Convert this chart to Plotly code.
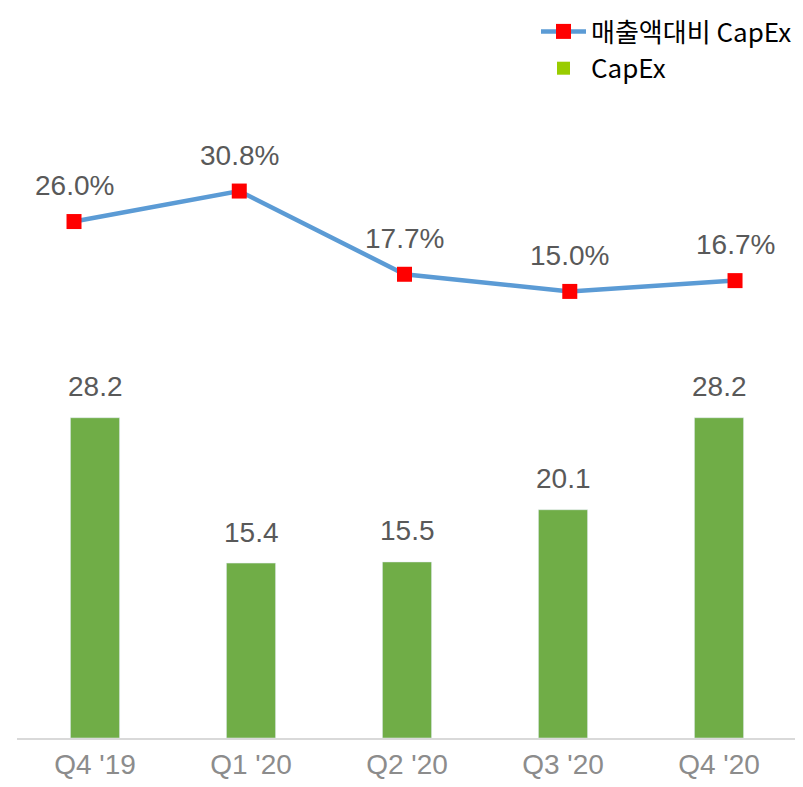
import plotly.graph_objects as go

categories = ["Q4 '19", "Q1 '20", "Q2 '20", "Q3 '20", "Q4 '20"]
capex = [28.2, 15.4, 15.5, 20.1, 28.2]
capex_ratio = [26.0, 30.8, 17.7, 15.0, 16.7]

KFONT = "Noto Sans CJK KR"
NFONT = "Liberation Sans"

fig = go.Figure()
fig.add_trace(go.Bar(
    x=categories, y=capex, name="CapEx", marker_color="#70AD47",
    width=0.315, showlegend=False, xaxis="x", yaxis="y"))
fig.add_trace(go.Scatter(
    x=categories, y=capex_ratio, name="매출액대비 CapEx", mode="lines+markers",
    line=dict(color="#5B9BD5", width=4.5),
    marker=dict(symbol="square", size=15, color="#FF0000"),
    xaxis="x2", yaxis="y2"))
# legend entry for CapEx (legend colour differs in reference)
fig.add_trace(go.Scatter(
    x=[None], y=[None], name="CapEx", mode="markers",
    marker=dict(symbol="square", size=13, color="#99CC00"), xaxis="x", yaxis="y"))

annotations = []
for c, v in zip(categories, capex):
    annotations.append(dict(x=c, y=v, xref="x", yref="y", text=f"{v:.1f}",
                            showarrow=False, yshift=31,
                            font=dict(family=NFONT, size=28, color="#595959")))
for c, v in zip(categories, capex_ratio):
    annotations.append(dict(x=c, y=v, xref="x2", yref="y2", text=f"{v:.1f}%",
                            showarrow=False, yshift=36,
                            font=dict(family=NFONT, size=28, color="#595959")))

fig.update_layout(
    width=795, height=779,
    margin=dict(l=9, r=6, t=2, b=49, autoexpand=False),
    plot_bgcolor="white", paper_bgcolor="white",
    font=dict(family=KFONT),
    bargap=0.685,
    xaxis=dict(showline=True, linecolor="#D9D9D9", linewidth=2,
               ticks="", tickfont=dict(family=NFONT, size=28, color="#8C8C8C"),
               showgrid=False),
    xaxis2=dict(type="category", range=[-0.345, 4.375], overlaying="x",
                visible=False, showgrid=False),
    yaxis=dict(range=[0, 64.1], visible=False, showgrid=False),
    yaxis2=dict(range=[-55.3, 59.3], overlaying="y", visible=False, showgrid=False),
    legend=dict(x=1.0, xanchor="right", yref="container", y=1.0, yanchor="top",
                font=dict(family=KFONT, size=26, color="#000000"),
                itemwidth=45,
                bgcolor="rgba(0,0,0,0)", traceorder="normal"),
    annotations=annotations,
)

fig.write_html("out.html")
